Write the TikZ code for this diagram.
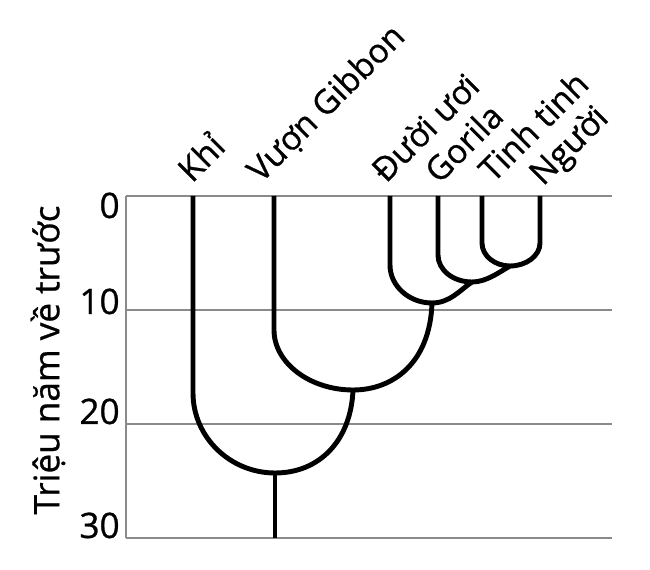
\documentclass[tikz,border=0pt]{standalone}
\usepackage{fontspec}
\setmainfont[FakeBold=0.8]{Open Sans}
\usetikzlibrary{positioning}
\definecolor{ink}{HTML}{000000}
\definecolor{xam}{HTML}{8A8A8A}
\tikzset{
  luoi/.style={draw=xam,line width=1.1pt},
  nhanh/.style={draw=ink,line width=2.8pt},
  ten/.style={font=\fontsize{19}{22}\selectfont,rotate=45,anchor=base west,inner sep=0pt},
  moc/.style={font=\fontsize{20}{24}\selectfont,inner sep=0pt},
}

\begin{document}
\begin{tikzpicture}[x=0.02cm,y=-0.02cm]
  \useasboundingbox (0,0) rectangle (650,570);
  % luoi thoi gian
  \foreach \y in {196,310,424,538}
    \draw[luoi] (126,\y) -- (612,\y);
  \draw[luoi] (126,196) -- (126,538);
  \node[moc,anchor=base east] (m0) at (120,218) {0};
  \node[moc,anchor=base east] (m10) at (120,314) {10};
  \node[moc,anchor=base east] (m20) at (120,424) {20};
  \node[moc,anchor=base east] (m30) at (120,538) {30};
  \node[moc,rotate=90] (truc) at (48,360) {Triệu năm về trước};
  % la va nut
  \foreach \n/\x in {khi/193,vuon/274,duoi/390,gori/438,tinh/482,nguoi/540}
    \coordinate (\n) at (\x,196);
  \coordinate (j1) at (510,266);
  \coordinate (j2) at (472,282);
  \coordinate (j3) at (432,303);
  \coordinate (j4) at (353,390);
  \coordinate (j5) at (275,473);
  \coordinate (goc) at (275,538);
  % ten loai
  \node[ten] (tkhi) at (192,184) {Khỉ};
  \node[ten] (tvuon) at (261,184) {Vượn Gibbon};
  \node[ten] (tduoi) at (386,184) {Đười ươi};
  \node[ten] (tgori) at (439,185) {Gorila};
  \node[ten] (ttinh) at (493,184) {Tinh tinh};
  \node[ten] (tnguoi) at (543,187) {Người};
  % cay
  \draw[nhanh] (tinh) -- ++(0,47) .. controls +(0,13) and +(-15,0) .. (j1);
  \draw[nhanh] (nguoi) -- ++(0,47) .. controls +(0,13) and +(16,0) .. (j1);
  \draw[nhanh] (gori) -- ++(0,59) .. controls +(0,15) and +(-19,0) .. (j2);
  \draw[nhanh] (j2) .. controls +(14,0) and +(-12,7) .. (j1);
  \draw[nhanh] (duoi) -- ++(0,69) .. controls +(0,21) and +(-23,0) .. (j3);
  \draw[nhanh] (j3) .. controls +(18,0) and +(-12,8) .. (j2);
  \draw[nhanh] (vuon) -- ++(0,134) .. controls +(0,33) and +(-43,0) .. (j4);
  \draw[nhanh] (j3) .. controls +(-2,60) and +(40,0) .. (j4);
  \draw[nhanh] (khi) -- ++(0,197) .. controls +(0,44) and +(-45,0) .. (j5);
  \draw[nhanh] (j4) .. controls +(-2,50) and +(45,0) .. (j5);
  \draw[nhanh] (j5) -- (goc);
\end{tikzpicture}
\end{document}
